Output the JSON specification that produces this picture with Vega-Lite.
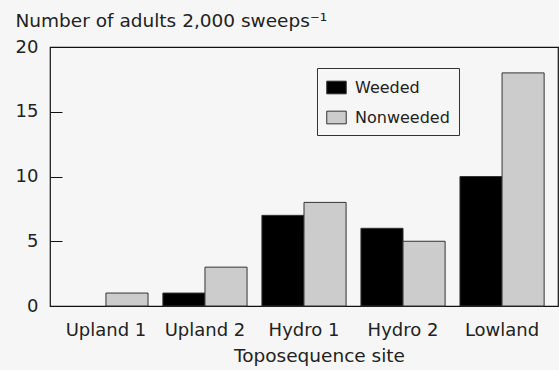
{
  "$schema": "https://vega.github.io/schema/vega-lite/v6.json",
  "autosize": "none",
  "width": 508,
  "height": 259,
  "padding": {"left": 50, "top": 47, "right": 1, "bottom": 64},
  "background": "#f6f6f6",
  "config": {
    "font": "DejaVu Sans",
    "view": {"stroke": "#111", "strokeWidth": 1.2},
    "axis": {"labelColor": "#222", "titleColor": "#222", "labelFont": "DejaVu Sans", "titleFont": "DejaVu Sans", "titleFontWeight": "normal", "grid": false}
  },
  "data": {
    "values": [
      {"site": "Upland 1", "treatment": "Weeded", "adults": 0},
      {"site": "Upland 1", "treatment": "Nonweeded", "adults": 1},
      {"site": "Upland 2", "treatment": "Weeded", "adults": 1},
      {"site": "Upland 2", "treatment": "Nonweeded", "adults": 3},
      {"site": "Hydro 1", "treatment": "Weeded", "adults": 7},
      {"site": "Hydro 1", "treatment": "Nonweeded", "adults": 8},
      {"site": "Hydro 2", "treatment": "Weeded", "adults": 6},
      {"site": "Hydro 2", "treatment": "Nonweeded", "adults": 5},
      {"site": "Lowland", "treatment": "Weeded", "adults": 10},
      {"site": "Lowland", "treatment": "Nonweeded", "adults": 18}
    ]
  },
  "mark": {"type": "bar", "stroke": "#333", "strokeWidth": 1},
  "encoding": {
    "x": {
      "field": "site", "type": "nominal",
      "sort": ["Upland 1", "Upland 2", "Hydro 1", "Hydro 2", "Lowland"],
      "scale": {"paddingInner": 0.15, "paddingOuter": 0.14},
      "axis": {"title": "Toposequence site", "labelAngle": 0, "ticks": false, "domain": false, "labelFontSize": 18, "titleFontSize": 18.5, "labelPadding": 15, "titlePadding": 7, "titleX": 269}
    },
    "xOffset": {"field": "treatment", "type": "nominal", "sort": ["Weeded", "Nonweeded"], "scale": {"paddingInner": 0, "paddingOuter": 0}},
    "y": {
      "field": "adults", "type": "quantitative",
      "scale": {"domain": [0, 20], "nice": false},
      "axis": {
        "values": [0, 5, 10, 15, 20],
        "title": "Number of adults 2,000 sweeps⁻¹",
        "titleAngle": 0, "titleAlign": "left", "titleBaseline": "alphabetic",
        "titleX": -35, "titleY": -21, "titleFontSize": 18.5,
        "labelFontSize": 18, "tickSize": -12, "tickColor": "#111", "labelPadding": 24,
        "domain": false
      }
    },
    "strokeOpacity": {"condition": {"test": "datum.adults === 0", "value": 0}, "value": 1},
    "fill": {
      "field": "treatment", "type": "nominal",
      "sort": ["Weeded", "Nonweeded"],
      "scale": {"domain": ["Weeded", "Nonweeded"], "range": ["#000000", "#cccccc"]},
      "legend": {
        "title": null, "orient": "none", "legendX": 267, "legendY": 21,
        "direction": "vertical",
        "strokeColor": "#333", "fillColor": "#f6f6f6", "padding": 9,
        "symbolType": "M-1,-0.65H1V0.65H-1Z", "symbolSize": 380,
        "symbolStrokeColor": "#333", "symbolStrokeWidth": 1,
        "labelFontSize": 16, "labelColor": "#222", "rowPadding": 11,
        "labelOffset": 8
      }
    }
  }
}
